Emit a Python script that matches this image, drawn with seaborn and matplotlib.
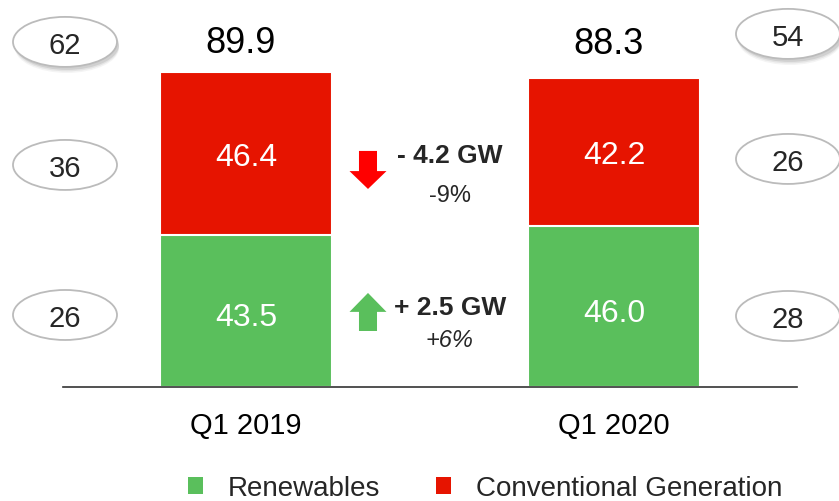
import pandas as pd
import matplotlib.pyplot as plt
import seaborn as sns
from matplotlib.patches import Ellipse, FancyArrow, Patch

# --- data ---
periods = ['Q1 2019', 'Q1 2020']
renewables = [43.5, 46.0]
conventional = [46.4, 42.2]
totals = [89.9, 88.3]
left_badges = [62, 36, 26]
right_badges = [54, 26, 28]
change_pct = {'conventional': '-9%', 'renewables': '+6%'}

df = pd.DataFrame({'period': periods, 'renewables': renewables,
                   'conventional': conventional, 'total': totals})

RED = '#E61400'
GREEN = '#5ABF5C'
ARROW_RED = '#FF0000'

sns.set_style('white')
plt.rcParams['font.family'] = ['Liberation Sans', 'DejaVu Sans']

W, H = 839, 502
fig = plt.figure(figsize=(W / 100, H / 100), dpi=100)
# axes: baseline at y=388 px, from x=63 to 797 px
ax = fig.add_axes([63 / W, 1 - 388 / H, (797 - 63) / W, 388 / H])

sns.barplot(data=df, x='period', y='total', color=RED, saturation=1,
            width=0.467, errorbar=None, ax=ax, edgecolor='white', linewidth=1.5)
sns.barplot(data=df, x='period', y='renewables', color=GREEN, saturation=1,
            width=0.467, errorbar=None, ax=ax, edgecolor='white', linewidth=1.5)

ax.set_xlim(-0.4973, 1.4973)
ax.set_ylim(0, 110.7)
ax.set_xlabel('')
ax.set_ylabel('')
ax.set_yticks([])
for side in ['top', 'right', 'left']:
    ax.spines[side].set_visible(False)
ax.spines['bottom'].set_color('#333333')
ax.spines['bottom'].set_linewidth(1.2)
ax.spines['bottom'].set_zorder(5)
ax.tick_params(axis='x', length=0, pad=17, labelsize=21, colors='black')

# value labels
for i, row in df.iterrows():
    ax.text(i - 0.015, row['total'] + 5.7 + i * 1.2, f"{row['total']:.1f}", ha='center',
            va='baseline', fontsize=26, color='black')
    ax.text(i, row['renewables'] + row['conventional'] / 2, f"{row['conventional']:.1f}",
            ha='center', va='center_baseline', fontsize=23, color='white')
    ax.text(i, row['renewables'] / 2 - 0.8, f"{row['renewables']:.1f}",
            ha='center', va='center_baseline', fontsize=23, color='white')

# change annotations between the bars
d_conv = conventional[1] - conventional[0]
d_ren = renewables[1] - renewables[0]
tx = 0.554
ax.text(tx, 66.8, f"- {abs(d_conv):.1f} GW", ha='center', va='center_baseline',
        fontsize=19, fontweight='bold')
ax.text(tx, 55.4, change_pct['conventional'], ha='center', va='center_baseline', fontsize=17)
ax.text(tx, 23.4, f"+ {abs(d_ren):.1f} GW", ha='center', va='center_baseline',
        fontsize=19, fontweight='bold')
ax.text(tx, 14.3, change_pct['renewables'], ha='center', va='center_baseline', fontsize=17,
        style='italic')

ax.add_patch(FancyArrow(0.3315, 67.35, 0, -10.85, width=0.049, head_width=0.1005,
                        head_length=5.1, length_includes_head=True,
                        color=ARROW_RED, lw=0, clip_on=False))
ax.add_patch(FancyArrow(0.3315, 15.98, 0, 10.85, width=0.049, head_width=0.1005,
                        head_length=5.4, length_includes_head=True,
                        color=GREEN, lw=0, clip_on=False))

# badges (ellipses) in pixel positions -> data
def px_to_data(px, py):
    return (px - 246) / 368, (388 - py) / 3.504

left_pos = [(65, 43), (65, 166), (65, 316)]
right_pos = [(788, 35), (788, 160), (788, 317)]
ew, eh = 104 / 368, 50 / 3.504
for vals, pos in [(left_badges, left_pos), (right_badges, right_pos)]:
    for k, (v, (px, py)) in enumerate(zip(vals, pos)):
        cx, cy = px_to_data(px, py)
        if k == 0:
            for s, a in [(6, 0.08), (4.5, 0.12), (3, 0.18)]:
                ax.add_patch(Ellipse((cx + 2 / 368, cy - s / 3.504), ew, eh,
                                     facecolor='#777777', edgecolor='none',
                                     alpha=a, clip_on=False, zorder=3))
        ax.add_patch(Ellipse((cx, cy), ew, eh, facecolor='white',
                             edgecolor='#BBBBBB', lw=1.3, clip_on=False, zorder=4))
        ax.text(cx, cy, str(v), ha='center', va='center_baseline', fontsize=21,
                zorder=6, clip_on=False)

handles = [Patch(facecolor=GREEN, edgecolor='none'),
           Patch(facecolor=RED, edgecolor='none')]
fig.legend(handles, ['Renewables', 'Conventional Generation'], loc='center',
           bbox_to_anchor=(485 / W, 1 - 489 / H), ncol=2, frameon=False,
           fontsize=20, handlelength=0.55, handleheight=0.55, handletextpad=0.9,
           columnspacing=2.0)

plt.savefig('out.png', dpi=100)
